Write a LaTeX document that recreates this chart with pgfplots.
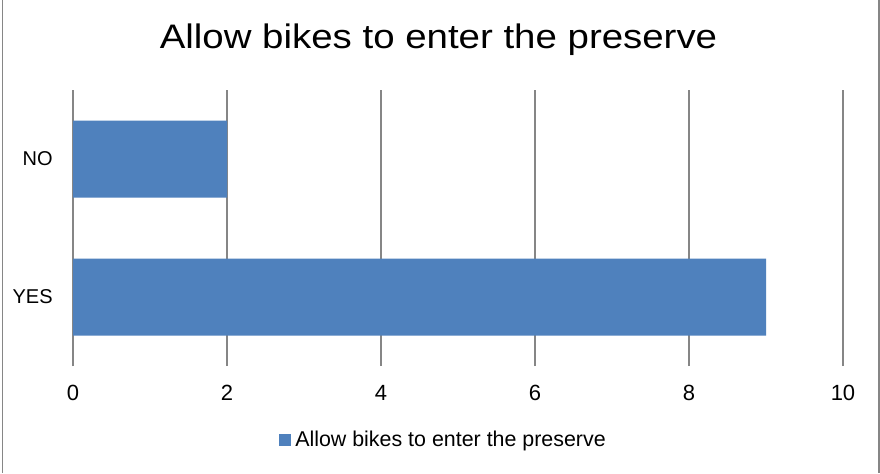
\documentclass[border=0pt]{standalone}
\usepackage{fontspec}
\setmainfont{Liberation Sans}
\usepackage{pgfplots}
\pgfplotsset{compat=1.18}
\definecolor{barblue}{HTML}{4F81BD}
\definecolor{gridgray}{HTML}{868686}
\begin{document}
\begin{tikzpicture}
\useasboundingbox (0,0) rectangle (440pt,-236.5pt);
\fill[white] (0,0) rectangle (440pt,-236.5pt);
\draw[gridgray, line width=0.6pt] (1.2pt,0) -- (1.2pt,-236.5pt);
\draw[gridgray, line width=0.6pt] (439.5pt,0) -- (439.5pt,-236.5pt);
\node[anchor=base, font=\fontsize{17}{20}\selectfont, inner sep=0pt] at (219.25pt,-24pt) {\scalebox{1.13}[1]{Allow bikes to enter the preserve}};
\begin{axis}[
 at={(36.5pt,-45pt)}, anchor=north west,
 scale only axis, width=385pt, height=138pt,
 xbar, bar width=38.5pt,
 xmin=0, xmax=10, ymin=-0.5, ymax=1.5,
 xtick={0,2,4,6,8,10}, ytick={0,1}, yticklabels={YES,NO},
 major tick length=0pt,
 axis lines*=left,
 x axis line style={draw=none},
 y axis line style={draw=gridgray, line width=0.6pt},
 xmajorgrids, grid style={gridgray, line width=0.6pt},
 yticklabel style={font=\fontsize{10}{12}\selectfont, inner sep=0pt, xshift=-10pt},
 xticklabel style={font=\fontsize{11}{13}\selectfont, inner sep=0pt, yshift=-9.5pt},
 /pgf/number format/assume math mode=true,
 legend style={at={(rel axis cs:0.4825,-0.268)}, anchor=center, draw=none, fill=none,
   font=\fontsize{10.7}{12}\selectfont, inner sep=0pt},
 legend image code/.code={\fill[#1] (0pt,-3pt) rectangle (6pt,3pt);},
]
\addplot[fill=barblue, draw=none] coordinates {(9,0) (2,1)};
\addlegendentry{Allow bikes to enter the preserve}
\end{axis}
\end{tikzpicture}
\end{document}
